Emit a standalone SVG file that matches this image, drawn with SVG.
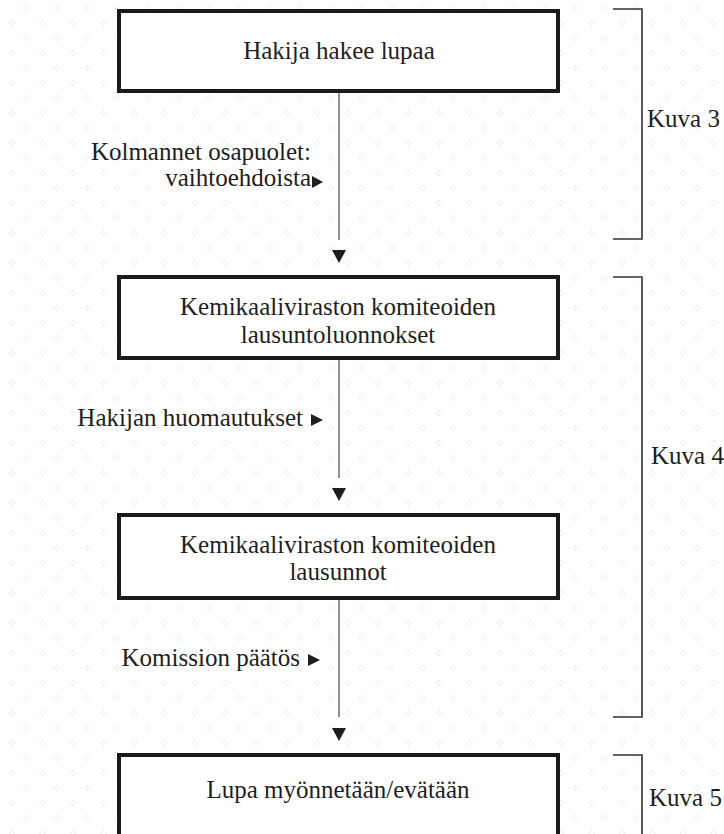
<svg xmlns="http://www.w3.org/2000/svg" width="724" height="834" viewBox="0 0 724 834">
  <style>
    .box { fill: #ffffff; stroke: #1a1a1a; stroke-width: 4; }
    .t { font-family: "Liberation Serif", "Times New Roman", serif; font-size: 25px; fill: #1e1e1e; }
    .c { text-anchor: middle; }
    .e { text-anchor: end; }
    .line { stroke: #555; stroke-width: 1.3; fill: none; }
    .brk { stroke: #333; stroke-width: 1.6; fill: none; }
    .head { fill: #1e1e1e; }
  </style>
  <defs>
    <pattern id="dots" x="0" y="0" width="30.5" height="30" patternUnits="userSpaceOnUse">
      <g fill="#dcdcdc">
        <rect x="25.5" y="5" width="1" height="1.5"/><rect x="25.5" y="9.5" width="1" height="1.5"/>
        <rect x="23" y="7.5" width="1.5" height="1"/><rect x="27.5" y="7.5" width="1.5" height="1"/>
        <rect x="11.5" y="20" width="1" height="1.5"/><rect x="11.5" y="24.5" width="1" height="1.5"/>
        <rect x="9" y="22.5" width="1.5" height="1"/><rect x="13.5" y="22.5" width="1.5" height="1"/>
      </g>
    </pattern>
  </defs>
  <rect x="0" y="0" width="724" height="834" fill="#ffffff"/>
  <rect x="0" y="0" width="724" height="834" fill="url(#dots)"/>

  <g id="connectors">
    <line class="line" x1="339" y1="93" x2="339" y2="240"/>
    <polygon class="head" points="332,250 346,250 339,263"/>
    <line class="line" x1="339" y1="360" x2="339" y2="478"/>
    <polygon class="head" points="332,488 346,488 339,501"/>
    <line class="line" x1="339" y1="600" x2="339" y2="717"/>
    <polygon class="head" points="332,728 346,728 339,741"/>
  </g>

  <g id="node-hakija">
    <rect class="box" x="119" y="11" width="439" height="80"/>
    <text class="t c" x="339" y="59">Hakija hakee lupaa</text>
  </g>

  <g id="label-kolmannet">
    <text class="t e" x="311" y="160">Kolmannet osapuolet:</text>
    <text class="t e" x="311" y="186">vaihtoehdoista</text>
    <polygon class="head" points="312,176 312,188 323,182"/>
  </g>

  <g id="node-luonnokset">
    <rect class="box" x="119" y="277" width="439" height="81"/>
    <text class="t c" x="338" y="315">Kemikaaliviraston komiteoiden</text>
    <text class="t c" x="338" y="343">lausuntoluonnokset</text>
  </g>

  <g id="label-huomautukset">
    <text class="t e" x="303" y="426">Hakijan huomautukset</text>
    <polygon class="head" points="311,414 311,426 323,420"/>
  </g>

  <g id="node-lausunnot">
    <rect class="box" x="119" y="515" width="439" height="83"/>
    <text class="t c" x="338" y="553">Kemikaaliviraston komiteoiden</text>
    <text class="t c" x="338" y="580">lausunnot</text>
  </g>

  <g id="label-komissio">
    <text class="t e" x="300" y="666">Komission päätös</text>
    <polygon class="head" points="308,654 308,666 320,660"/>
  </g>

  <g id="node-lupa">
    <rect class="box" x="119" y="755" width="439" height="110"/>
    <text class="t c" x="338" y="798">Lupa myönnetään/evätään</text>
  </g>

  <g id="bracket-kuva3">
    <polyline class="brk" points="613,9 642,9 642,239 613,239"/>
    <text class="t" x="647" y="127">Kuva 3</text>
  </g>
  <g id="bracket-kuva4">
    <polyline class="brk" points="613,277 642,277 642,717 613,717"/>
    <text class="t" x="651" y="464">Kuva 4</text>
  </g>
  <g id="bracket-kuva5">
    <polyline class="brk" points="613,755 642,755 642,840"/>
    <text class="t" x="649" y="806">Kuva 5</text>
  </g>
</svg>
